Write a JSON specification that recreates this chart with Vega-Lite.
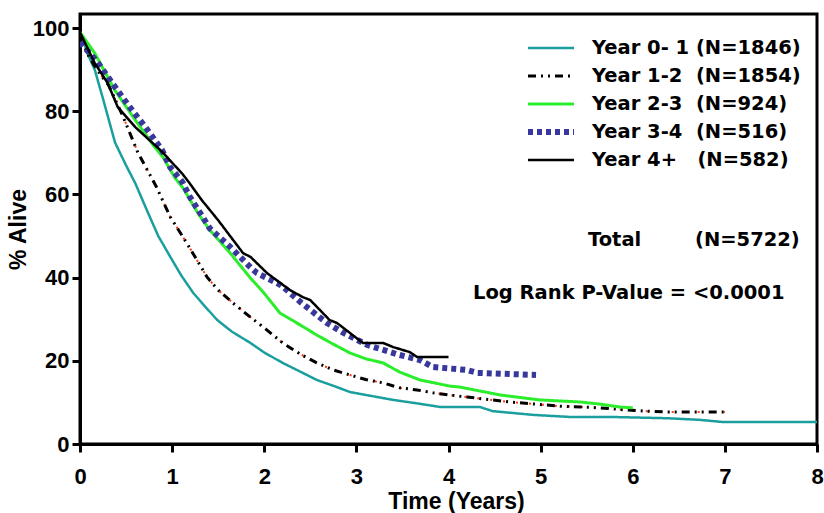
{
  "$schema": "https://vega.github.io/schema/vega-lite/v6.json",
  "width": 737,
  "height": 430,
  "autosize": {"type": "none"},
  "padding": {"left": 80, "top": 14, "right": 7, "bottom": 69},
  "background": "white",
  "config": {
    "view": {"stroke": "black", "strokeWidth": 3},
    "font": "Liberation Sans",
    "axis": {
      "grid": false,
      "domainColor": "black",
      "domainWidth": 3,
      "tickColor": "black",
      "tickWidth": 3,
      "tickSize": 8,
      "labelFont": "Liberation Sans",
      "labelFontSize": 22,
      "labelFontWeight": "bold",
      "labelColor": "black",
      "titleFont": "Liberation Sans",
      "titleFontSize": 23,
      "titleFontWeight": "bold",
      "titleColor": "black",
      "labelFlush": false,
      "labelOverlap": false
    }
  },
  "datasets": {
    "km": [
      {"g": "Year 0-1", "t": 0, "v": 98},
      {"g": "Year 0-1", "t": 0.05, "v": 96},
      {"g": "Year 0-1", "t": 0.1, "v": 93},
      {"g": "Year 0-1", "t": 0.16, "v": 90},
      {"g": "Year 0-1", "t": 0.25, "v": 83},
      {"g": "Year 0-1", "t": 0.38, "v": 72.5},
      {"g": "Year 0-1", "t": 0.5, "v": 67},
      {"g": "Year 0-1", "t": 0.6, "v": 62.7},
      {"g": "Year 0-1", "t": 0.74, "v": 55.5},
      {"g": "Year 0-1", "t": 0.85, "v": 50},
      {"g": "Year 0-1", "t": 0.98, "v": 45},
      {"g": "Year 0-1", "t": 1.1, "v": 40.5},
      {"g": "Year 0-1", "t": 1.23, "v": 36.3},
      {"g": "Year 0-1", "t": 1.36, "v": 33},
      {"g": "Year 0-1", "t": 1.49, "v": 29.8},
      {"g": "Year 0-1", "t": 1.65, "v": 27},
      {"g": "Year 0-1", "t": 1.85, "v": 24.3},
      {"g": "Year 0-1", "t": 2.0, "v": 22},
      {"g": "Year 0-1", "t": 2.2, "v": 19.5},
      {"g": "Year 0-1", "t": 2.4, "v": 17.3},
      {"g": "Year 0-1", "t": 2.57, "v": 15.4},
      {"g": "Year 0-1", "t": 2.75, "v": 14},
      {"g": "Year 0-1", "t": 2.93, "v": 12.5},
      {"g": "Year 0-1", "t": 3.1, "v": 11.8},
      {"g": "Year 0-1", "t": 3.4, "v": 10.6},
      {"g": "Year 0-1", "t": 3.65, "v": 9.8},
      {"g": "Year 0-1", "t": 3.91, "v": 8.9},
      {"g": "Year 0-1", "t": 4.34, "v": 8.9},
      {"g": "Year 0-1", "t": 4.48, "v": 7.9},
      {"g": "Year 0-1", "t": 4.92, "v": 7.0},
      {"g": "Year 0-1", "t": 5.32, "v": 6.5},
      {"g": "Year 0-1", "t": 5.77, "v": 6.5},
      {"g": "Year 0-1", "t": 6.37, "v": 6.2},
      {"g": "Year 0-1", "t": 6.73, "v": 5.8},
      {"g": "Year 0-1", "t": 6.97, "v": 5.3},
      {"g": "Year 0-1", "t": 8.0, "v": 5.3},

      {"g": "Year 1-2", "t": 0, "v": 98},
      {"g": "Year 1-2", "t": 0.1, "v": 93},
      {"g": "Year 1-2", "t": 0.2, "v": 89.5},
      {"g": "Year 1-2", "t": 0.31, "v": 86.3},
      {"g": "Year 1-2", "t": 0.47, "v": 78.6},
      {"g": "Year 1-2", "t": 0.63, "v": 70},
      {"g": "Year 1-2", "t": 0.76, "v": 64.7},
      {"g": "Year 1-2", "t": 0.83, "v": 61.8},
      {"g": "Year 1-2", "t": 0.98, "v": 54.6},
      {"g": "Year 1-2", "t": 1.16, "v": 48.3},
      {"g": "Year 1-2", "t": 1.38, "v": 40.1},
      {"g": "Year 1-2", "t": 1.5, "v": 37},
      {"g": "Year 1-2", "t": 1.66, "v": 33.9},
      {"g": "Year 1-2", "t": 1.85, "v": 30.5},
      {"g": "Year 1-2", "t": 2.03, "v": 27.4},
      {"g": "Year 1-2", "t": 2.2, "v": 24.3},
      {"g": "Year 1-2", "t": 2.4, "v": 21.5},
      {"g": "Year 1-2", "t": 2.57, "v": 19.5},
      {"g": "Year 1-2", "t": 2.75, "v": 17.8},
      {"g": "Year 1-2", "t": 2.93, "v": 16.6},
      {"g": "Year 1-2", "t": 3.1, "v": 15.5},
      {"g": "Year 1-2", "t": 3.29, "v": 14.7},
      {"g": "Year 1-2", "t": 3.47, "v": 13.5},
      {"g": "Year 1-2", "t": 3.66, "v": 13.0},
      {"g": "Year 1-2", "t": 3.83, "v": 12.3},
      {"g": "Year 1-2", "t": 4.0, "v": 11.8},
      {"g": "Year 1-2", "t": 4.2, "v": 11.3},
      {"g": "Year 1-2", "t": 4.67, "v": 10.1},
      {"g": "Year 1-2", "t": 5.21, "v": 9.1},
      {"g": "Year 1-2", "t": 5.64, "v": 8.7},
      {"g": "Year 1-2", "t": 5.92, "v": 8.2},
      {"g": "Year 1-2", "t": 6.15, "v": 7.9},
      {"g": "Year 1-2", "t": 6.37, "v": 7.7},
      {"g": "Year 1-2", "t": 7.0, "v": 7.7},

      {"g": "Year 2-3", "t": 0, "v": 99},
      {"g": "Year 2-3", "t": 0.16, "v": 94},
      {"g": "Year 2-3", "t": 0.38, "v": 85},
      {"g": "Year 2-3", "t": 0.6, "v": 77.9},
      {"g": "Year 2-3", "t": 0.81, "v": 71.4},
      {"g": "Year 2-3", "t": 0.9, "v": 69},
      {"g": "Year 2-3", "t": 1.03, "v": 64},
      {"g": "Year 2-3", "t": 1.12, "v": 61.5},
      {"g": "Year 2-3", "t": 1.28, "v": 55.5},
      {"g": "Year 2-3", "t": 1.41, "v": 51.4},
      {"g": "Year 2-3", "t": 1.63, "v": 45.9},
      {"g": "Year 2-3", "t": 1.85, "v": 39.9},
      {"g": "Year 2-3", "t": 1.99, "v": 36.5},
      {"g": "Year 2-3", "t": 2.17, "v": 31.5},
      {"g": "Year 2-3", "t": 2.4, "v": 28.5},
      {"g": "Year 2-3", "t": 2.57, "v": 26.2},
      {"g": "Year 2-3", "t": 2.75, "v": 24},
      {"g": "Year 2-3", "t": 2.93, "v": 21.9},
      {"g": "Year 2-3", "t": 3.1, "v": 20.5},
      {"g": "Year 2-3", "t": 3.29, "v": 19.5},
      {"g": "Year 2-3", "t": 3.47, "v": 17.3},
      {"g": "Year 2-3", "t": 3.69, "v": 15.4},
      {"g": "Year 2-3", "t": 4.02, "v": 13.9},
      {"g": "Year 2-3", "t": 4.12, "v": 13.7},
      {"g": "Year 2-3", "t": 4.56, "v": 11.8},
      {"g": "Year 2-3", "t": 4.99, "v": 10.6},
      {"g": "Year 2-3", "t": 5.43, "v": 10.1},
      {"g": "Year 2-3", "t": 5.64, "v": 9.6},
      {"g": "Year 2-3", "t": 5.86, "v": 8.9},
      {"g": "Year 2-3", "t": 6.0, "v": 8.7},

      {"g": "Year 3-4", "t": 0, "v": 96.6},
      {"g": "Year 3-4", "t": 0.19, "v": 91.8},
      {"g": "Year 3-4", "t": 0.35, "v": 86.8},
      {"g": "Year 3-4", "t": 0.54, "v": 81},
      {"g": "Year 3-4", "t": 0.71, "v": 76.2},
      {"g": "Year 3-4", "t": 0.89, "v": 70.7},
      {"g": "Year 3-4", "t": 0.98, "v": 66.5},
      {"g": "Year 3-4", "t": 1.11, "v": 63},
      {"g": "Year 3-4", "t": 1.19, "v": 59.5},
      {"g": "Year 3-4", "t": 1.32, "v": 55},
      {"g": "Year 3-4", "t": 1.41, "v": 51.8},
      {"g": "Year 3-4", "t": 1.63, "v": 47.4},
      {"g": "Year 3-4", "t": 1.85, "v": 42.5},
      {"g": "Year 3-4", "t": 1.92, "v": 41.1},
      {"g": "Year 3-4", "t": 2.14, "v": 38.7},
      {"g": "Year 3-4", "t": 2.2, "v": 37.9},
      {"g": "Year 3-4", "t": 2.4, "v": 34},
      {"g": "Year 3-4", "t": 2.68, "v": 29.1},
      {"g": "Year 3-4", "t": 2.86, "v": 26.7},
      {"g": "Year 3-4", "t": 3.12, "v": 23.8},
      {"g": "Year 3-4", "t": 3.47, "v": 21.4},
      {"g": "Year 3-4", "t": 3.69, "v": 20.2},
      {"g": "Year 3-4", "t": 3.83, "v": 18.5},
      {"g": "Year 3-4", "t": 4.2, "v": 17.8},
      {"g": "Year 3-4", "t": 4.31, "v": 17.1},
      {"g": "Year 3-4", "t": 4.95, "v": 16.6},

      {"g": "Year 4+", "t": 0, "v": 99},
      {"g": "Year 4+", "t": 0.16, "v": 91.6},
      {"g": "Year 4+", "t": 0.3, "v": 86.8},
      {"g": "Year 4+", "t": 0.41, "v": 81},
      {"g": "Year 4+", "t": 0.6, "v": 76.2},
      {"g": "Year 4+", "t": 0.89, "v": 70.3},
      {"g": "Year 4+", "t": 1.11, "v": 65},
      {"g": "Year 4+", "t": 1.19, "v": 62.7},
      {"g": "Year 4+", "t": 1.32, "v": 58.7},
      {"g": "Year 4+", "t": 1.5, "v": 53.8},
      {"g": "Year 4+", "t": 1.77, "v": 45.9},
      {"g": "Year 4+", "t": 1.85, "v": 45},
      {"g": "Year 4+", "t": 2.03, "v": 41.1},
      {"g": "Year 4+", "t": 2.28, "v": 37},
      {"g": "Year 4+", "t": 2.42, "v": 35.3},
      {"g": "Year 4+", "t": 2.5, "v": 34.6},
      {"g": "Year 4+", "t": 2.71, "v": 29.8},
      {"g": "Year 4+", "t": 2.79, "v": 29.1},
      {"g": "Year 4+", "t": 2.93, "v": 26.7},
      {"g": "Year 4+", "t": 3.07, "v": 24.3},
      {"g": "Year 4+", "t": 3.29, "v": 24.3},
      {"g": "Year 4+", "t": 3.4, "v": 23.3},
      {"g": "Year 4+", "t": 3.58, "v": 22.1},
      {"g": "Year 4+", "t": 3.66, "v": 20.9},
      {"g": "Year 4+", "t": 4.0, "v": 20.9}
    ],
    "notes": [
      {"t": 5.514, "v": 49.0, "label": "Total"},
      {"t": 6.676, "v": 49.0, "label": "(N=5722)"},
      {"t": 4.266, "v": 36.3, "label": "Log Rank P-Value = <0.0001"}
    ]
  },
  "layer": [
    {
      "data": {"name": "km"},
      "transform": [{"filter": "datum.g == 'Year 1-2'"}],
      "mark": {"type": "line", "interpolate": "linear", "clip": true, "color": "#ff3a10", "strokeWidth": 2, "strokeDash": [2, 11], "strokeDashOffset": 7},
      "encoding": {
        "x": {"field": "t", "type": "quantitative"},
        "y": {"field": "v", "type": "quantitative"}
      }
    },
    {
      "data": {"name": "km"},
      "mark": {"type": "line", "interpolate": "linear", "clip": true},
      "encoding": {
        "x": {
          "field": "t",
          "type": "quantitative",
          "scale": {"domain": [0, 8], "nice": false},
          "axis": {
            "title": "Time (Years)",
            "values": [0, 1, 2, 3, 4, 5, 6, 7, 8],
            "format": "d",
            "labelPadding": 14,
            "titlePadding": 3,
            "titleX": 376
          }
        },
        "y": {
          "field": "v",
          "type": "quantitative",
          "scale": {"domain": [0, 103.4], "nice": false},
          "axis": {
            "title": "% Alive",
            "values": [0, 20, 40, 60, 80, 100],
            "format": "d",
            "labelPadding": 3,
            "titlePadding": 2
          }
        },
        "color": {
          "field": "g",
          "type": "nominal",
          "scale": {
            "domain": ["Year 0-1", "Year 1-2", "Year 2-3", "Year 3-4", "Year 4+"],
            "range": ["#1a9e9e", "#000000", "#2ced2c", "#38389c", "#000000"]
          },
          "legend": {
            "orient": "none",
            "legendX": 445,
            "legendY": 20,
            "title": null,
            "padding": 0,
            "labelFont": "DejaVu Sans",
            "labelFontSize": 19.5,
            "labelFontWeight": "bold",
            "labelColor": "black",
            "labelLimit": 400,
            "labelOffset": 15,
            "symbolType": "stroke",
            "symbolSize": 2116,
            "symbolStrokeWidth": 3,
            "clipHeight": 28,
            "rowPadding": 0,
            "encode": {"symbols": {"update": {"strokeWidth": {"value": 3}}}},
            "labelExpr": "datum.label == 'Year 0-1' ? 'Year 0- 1 (N=1846)' : datum.label == 'Year 1-2' ? 'Year 1-2\u00a0\u00a0(N=1854)' : datum.label == 'Year 2-3' ? 'Year 2-3\u00a0\u00a0(N=924)' : datum.label == 'Year 3-4' ? 'Year 3-4\u00a0\u00a0(N=516)' : 'Year 4+\u00a0\u00a0\u00a0(N=582)'"
          }
        },
        "strokeDash": {
          "field": "g",
          "type": "nominal",
          "scale": {
            "domain": ["Year 0-1", "Year 1-2", "Year 2-3", "Year 3-4", "Year 4+"],
            "range": [[1, 0], [8, 5, 2, 5, 2, 5], [1, 0], [5, 4], [1, 0]]
          }
        },
        "strokeWidth": {
          "field": "g",
          "type": "ordinal",
          "scale": {
            "type": "ordinal",
            "domain": ["Year 0-1", "Year 1-2", "Year 2-3", "Year 3-4", "Year 4+"],
            "range": [2.5, 3, 3, 6, 2.5]
          },
          "legend": null
        }
      }
    },
    {
      "data": {"name": "notes"},
      "mark": {
        "type": "text",
        "align": "left",
        "baseline": "middle",
        "font": "DejaVu Sans",
        "fontSize": 19.5,
        "fontWeight": "bold",
        "color": "black"
      },
      "encoding": {
        "x": {"field": "t", "type": "quantitative"},
        "y": {"field": "v", "type": "quantitative"},
        "text": {"field": "label", "type": "nominal"}
      }
    }
  ]
}
